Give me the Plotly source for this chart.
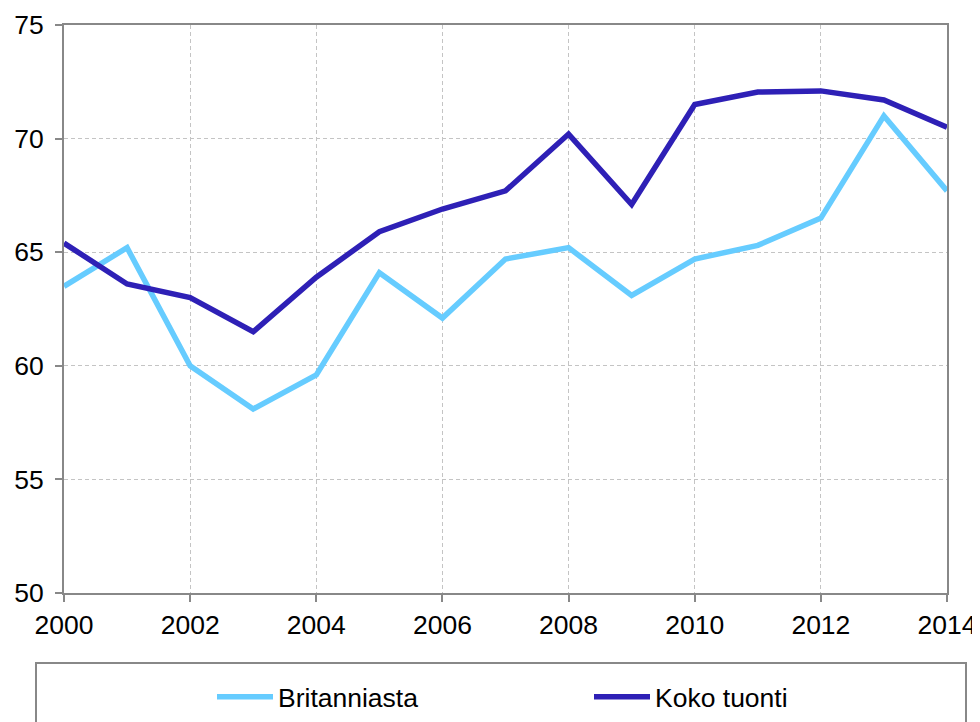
import plotly.graph_objects as go

years = list(range(2000, 2015))
britanniasta = [63.5, 65.2, 60.0, 58.1, 59.6, 64.1, 62.1, 64.7, 65.2, 63.1, 64.7, 65.3, 66.5, 71.0, 67.7]
koko_tuonti = [65.4, 63.6, 63.0, 61.5, 63.9, 65.9, 66.9, 67.7, 70.2, 67.1, 71.5, 72.05, 72.1, 71.7, 70.5]
x_ticks = list(range(2000, 2015, 2))
y_ticks = [50, 55, 60, 65, 70, 75]

font_family = "Liberation Sans, Arial, sans-serif"
FS = 26.5

# the page body adds an 8px offset; figure sized to fit the 980x722 window
W, H = 972, 714
L, T, PW, PH = 56, 17, 883, 568
R = W - L - PW
B = H - T - PH

fig = go.Figure()
fig.add_trace(go.Scatter(x=years, y=britanniasta, mode="lines", name="Britanniasta",
                         line=dict(color="#66CCFF", width=5.5)))
fig.add_trace(go.Scatter(x=years, y=koko_tuonti, mode="lines", name="Koko tuonti",
                         line=dict(color="#2E20B6", width=5.5)))

axis_common = dict(showline=True, linecolor="#888888", linewidth=2, mirror=True,
                   ticks="outside", ticklen=7, tickcolor="#888888", tickwidth=2,
                   showgrid=True, gridcolor="#C4C4C4", gridwidth=1, griddash="4px,3px",
                   zeroline=False, automargin=False,
                   tickfont=dict(size=FS, color="#000000", family=font_family))

fig.update_xaxes(range=[2000, 2014], tickvals=x_ticks, **axis_common)
fig.update_yaxes(range=[50, 75], tickvals=y_ticks, ticklabelstandoff=6, **axis_common)

bottom = T + PH
fig.add_shape(type="rect", xref="paper", yref="paper",
              x0=(28 - L) / PW, x1=(958 - L) / PW,
              y0=(bottom - 760) / PH, y1=(bottom - 655) / PH,
              line=dict(color="#888888", width=2), fillcolor="rgba(0,0,0,0)", layer="below")

fig.update_layout(
    width=W, height=H,
    margin=dict(l=L, r=R, t=T, b=B, autoexpand=False),
    paper_bgcolor="white", plot_bgcolor="white",
    font=dict(family=font_family, size=FS, color="#000000"),
    showlegend=True,
    legend=dict(orientation="h", x=(204 - L) / PW, xanchor="left",
                y=(bottom - 689) / PH, yanchor="middle",
                entrywidth=306, entrywidthmode="pixels", itemwidth=56,
                bgcolor="rgba(0,0,0,0)", font=dict(size=FS, family=font_family)),
)

fig.write_html("out.html")
